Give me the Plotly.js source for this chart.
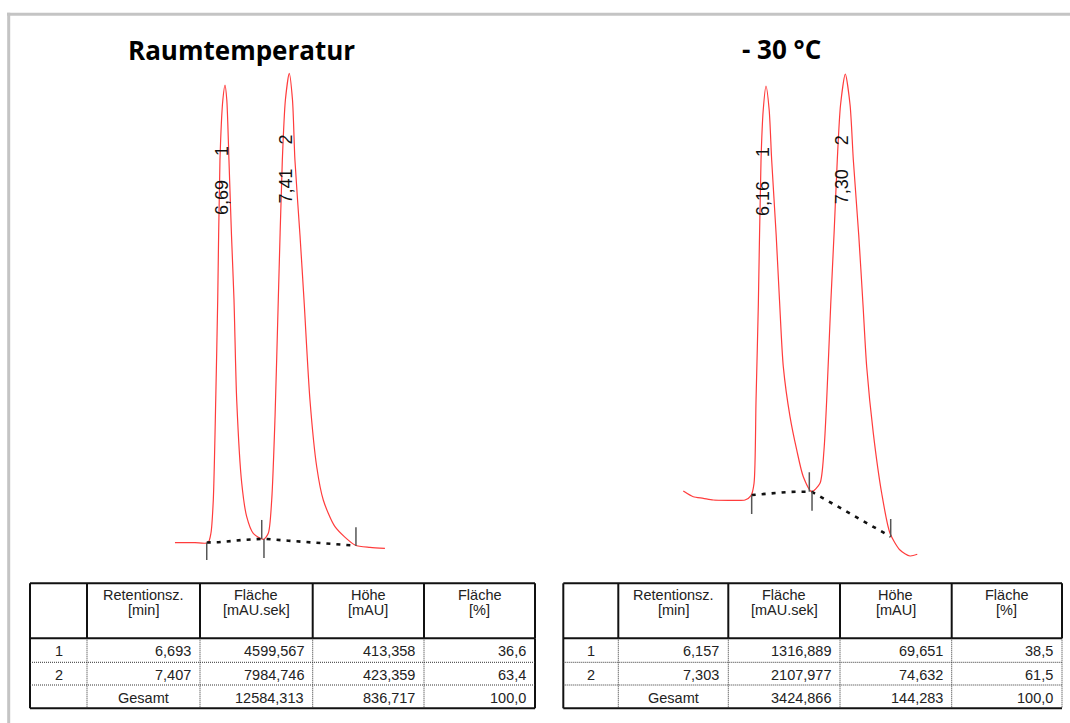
<!DOCTYPE html>
<html><head><meta charset="utf-8">
<script src="https://cdn.plot.ly/plotly-3.0.1.min.js"></script>
<style>html,body{margin:0;padding:0;background:#fff}#chart{width:1070px;height:723px}</style>
</head><body><div id="chart"></div>
<script>
// ---------- Raumtemperatur chromatogram (time [min], signal [mAU]) ----------
const timeRT = [6.137,6.359,6.504,6.537,6.563,6.590,6.612,6.637,6.669,6.693,6.713,6.737,6.765,6.793,6.823,6.879,6.934,7.007,7.119,7.174,7.212,7.249,7.285,7.330,7.364,7.407,7.443,7.470,7.526,7.571,7.637,7.712,7.785,7.915,8.137,8.304,8.470];
const signalRT = [0,0,0,8.8,38.7,129.3,219.8,346.6,401.0,414.6,401.0,346.6,278.7,219.8,129.3,53.8,23.6,8.5,3.1,8.5,38.7,114.1,219.8,346.6,401.0,425.2,401.0,346.6,278.7,219.8,129.3,68.8,38.7,14.5,-2.1,-4.3,-5.1];
const baseTimeRT = [6.490,6.619,6.879,7.126,7.396,7.656,7.915,8.148];
const baseSignalRT = [0.2,0.4,2.4,3.6,1.8,0.4,-1.2,-2.7];
const markTimeRT = [6.490,7.101,7.126,8.148];
const markTopRT = [0,20.6,3.4,13.9];
const markBottomRT = [-15.7,3.4,-13.9,-3.0];

// ---------- -30 °C chromatogram ----------
const timeCold = [4.962,5.106,5.251,5.395,5.637,5.854,5.940,5.984,6.013,6.046,6.085,6.117,6.157,6.203,6.239,6.304,6.352,6.407,6.504,6.601,6.696,6.817,6.937,6.995,7.034,7.092,7.143,7.187,7.234,7.303,7.372,7.419,7.497,7.559,7.612,7.708,7.829,7.949,8.093,8.238,8.343];
const signalCold = [1.54,0.56,0.29,0.00,-0.05,0.00,0.74,2.85,17.09,33.33,58.12,66.67,70.77,66.67,58.12,45.30,34.19,22.79,14.24,8.55,3.98,1.42,2.85,8.55,17.09,33.33,46.15,58.12,67.52,72.82,67.52,58.12,45.30,33.33,22.79,11.40,1.15,-5.69,-8.55,-9.57,-9.28];
const baseTimeCold = [5.950,6.143,6.312,6.479,6.648,6.817,7.959];
const baseSignalCold = [0.85,1.03,1.25,1.37,1.42,1.42,-6.27];
const markTimeCold = [5.950,6.783,6.822,7.959];
const markTopCold = [0.85,4.74,1.42,-3.25];
const markBottomCold = [-2.39,1.42,-1.83,-6.27];

// ---------- titles and tables ----------
const chartTitles = ["Raumtemperatur", "- 30 °C"];
const headerLine1 = ["", "Retentionsz.", "Fläche", "Höhe", "Fläche"];
const headerLine2 = ["", "[min]", "[mAU.sek]", "[mAU]", "[%]"];
const peakNumbers = ["1", "2"];
const totalLabel = "Gesamt";
const retentionRT = [6.693, 7.407];
const areaRT = [4599.567, 7984.746];
const heightRT = [413.358, 423.359];
const areaPctRT = [36.6, 63.4];
const totalsRT = [12584.313, 836.717, 100.0];
const retentionCold = [6.157, 7.303];
const areaCold = [1316.889, 2107.977];
const heightCold = [69.651, 74.632];
const areaPctCold = [38.5, 61.5];
const totalsCold = [3424.866, 144.283, 100.0];

// ---------- helpers ----------
const W = 1070, H = 723;
const PX = x => x / W;
const PY = y => 1 - y / H;
const fmt = (v, d) => v.toFixed(d).replace('.', ',');

function segments(t, top, bot) {
  const xs = [], ys = [];
  t.forEach((v, i) => { xs.push(v, v, null); ys.push(top[i], bot[i], null); });
  return {x: xs, y: ys};
}

const curveLine = {color: '#ff3c3c', width: 1.2, shape: 'spline', smoothing: 0.7};
const baseLine = {color: '#111', width: 2.6, dash: '4px,6px'};
const markLine = {color: '#555', width: 1.5};

const mkSR = segments(markTimeRT, markTopRT, markBottomRT);
const mkSC = segments(markTimeCold, markTopCold, markBottomCold);

const traces = [
  {x: timeRT, y: signalRT, xaxis: 'x', yaxis: 'y', mode: 'lines', line: curveLine, cliponaxis: false, hoverinfo: 'skip'},
  {x: baseTimeRT, y: baseSignalRT, xaxis: 'x', yaxis: 'y', mode: 'lines', line: baseLine, cliponaxis: false, hoverinfo: 'skip'},
  {x: mkSR.x, y: mkSR.y, xaxis: 'x', yaxis: 'y', mode: 'lines', line: markLine, cliponaxis: false, hoverinfo: 'skip', connectgaps: false},
  {x: timeCold, y: signalCold, xaxis: 'x2', yaxis: 'y2', mode: 'lines', line: curveLine, cliponaxis: false, hoverinfo: 'skip'},
  {x: baseTimeCold, y: baseSignalCold, xaxis: 'x2', yaxis: 'y2', mode: 'lines', line: baseLine, cliponaxis: false, hoverinfo: 'skip'},
  {x: mkSC.x, y: mkSC.y, xaxis: 'x2', yaxis: 'y2', mode: 'lines', line: markLine, cliponaxis: false, hoverinfo: 'skip', connectgaps: false}
];

const annotations = [];
const shapes = [];

// frame
shapes.push({type: 'line', xref: 'paper', yref: 'paper', x0: PX(7), x1: PX(1070), y0: PY(14.2), y1: PY(14.2), line: {color: '#c4c4c4', width: 3}});
shapes.push({type: 'line', xref: 'paper', yref: 'paper', x0: PX(8.7), x1: PX(8.7), y0: PY(12.7), y1: PY(723), line: {color: '#c4c4c4', width: 3}});

// titles
const titleFont = {family: 'Open Sans, Lato, sans-serif', size: 26, color: '#000'};
[[241, 50], [781.5, 49]].forEach((p, i) => {
  annotations.push({xref: 'paper', yref: 'paper', x: PX(p[0]), y: PY(p[1]), text: '<b>' + chartTitles[i] + '</b>', showarrow: false, xanchor: 'center', yanchor: 'middle', font: titleFont});
});

// peak labels
const labelFont = {family: 'Liberation Sans, Arial, sans-serif', size: 18, color: '#111'};
function peakLabels(rts, times, sig, xa, ya) {
  rts.forEach((rt, i) => {
    let apex = -Infinity;
    times.forEach((t, k) => { if (Math.abs(t - rt) < 0.06 && sig[k] > apex) apex = sig[k]; });
    annotations.push({xref: xa, yref: ya, x: rt, y: apex, xshift: -3, yshift: -113, text: fmt(rt, 2), textangle: -90, showarrow: false, font: labelFont, xanchor: 'center', yanchor: 'middle'});
    annotations.push({xref: xa, yref: ya, x: rt, y: apex, xshift: -3, yshift: -66, text: peakNumbers[i], textangle: -90, showarrow: false, font: labelFont, xanchor: 'center', yanchor: 'middle'});
  });
}
peakLabels(retentionRT, timeRT, signalRT, 'x', 'y');
peakLabels(retentionCold, timeCold, signalCold, 'x2', 'y2');

// tables
const tableFont = {family: 'Liberation Sans, Arial, sans-serif', size: 14.5, color: '#222'};
const rowEdges = [583.3, 638.3, 662.3, 685, 708.3];
function line(x0, y0, x1, y1, style) {
  shapes.push({type: 'line', xref: 'paper', yref: 'paper', x0: PX(x0), y0: PY(y0), x1: PX(x1), y1: PY(y1), line: style});
}
function text(x, y, s, anchor) {
  annotations.push({xref: 'paper', yref: 'paper', x: PX(x), y: PY(y), text: s, showarrow: false, xanchor: anchor, yanchor: 'middle', font: tableFont});
}
function drawTable(cols, rt, area, height, pct, totals, dottedRight) {
  const solid = {color: '#111', width: 2};
  const dot = {color: '#333', width: 1, dash: '1px,1px'};
  const r = rowEdges;
  line(cols[0], r[0], cols[5], r[0], solid);
  line(cols[0], r[4], cols[5], r[4], solid);
  line(cols[0], r[1], cols[5], r[1], solid);
  line(cols[0], r[0], cols[0], r[4], solid);
  line(cols[5], r[0], cols[5], r[1], solid);
  line(cols[5], r[1], cols[5], r[4], dottedRight ? dot : solid);
  for (let c = 1; c < 5; c++) {
    line(cols[c], r[0], cols[c], r[1], solid);
    line(cols[c], r[1], cols[c], r[4], dot);
  }
  line(cols[0], r[2], cols[5], r[2], dot);
  line(cols[0], r[3], cols[5], r[3], dot);
  for (let c = 1; c < 5; c++) {
    const cx = (cols[c] + cols[c + 1]) / 2;
    text(cx, 595, headerLine1[c], 'center');
    text(cx, 610, headerLine2[c], 'center');
  }
  const pad = 7;
  for (let i = 0; i < 2; i++) {
    const cy = (r[i + 1] + r[i + 2]) / 2 + 1;
    text((cols[0] + cols[1]) / 2, cy, peakNumbers[i], 'center');
    text(cols[2] - pad, cy, fmt(rt[i], 3), 'right');
    text(cols[3] - pad, cy, fmt(area[i], 3), 'right');
    text(cols[4] - pad, cy, fmt(height[i], 3), 'right');
    text(cols[5] - pad, cy, fmt(pct[i], 1), 'right');
  }
  const cy = (r[3] + r[4]) / 2 + 1;
  text((cols[1] + cols[2]) / 2, cy, totalLabel, 'center');
  text(cols[3] - pad, cy, fmt(totals[0], 3), 'right');
  text(cols[4] - pad, cy, fmt(totals[1], 3), 'right');
  text(cols[5] - pad, cy, fmt(totals[2], 1), 'right');
}
drawTable([30, 87, 200, 312.7, 424, 535], retentionRT, areaRT, heightRT, areaPctRT, totalsRT, false);
drawTable([563.3, 618.3, 728.3, 840, 951.7, 1062], retentionCold, areaCold, heightCold, areaPctCold, totalsCold, true);

const yDomain = [PY(570), PY(50)];
const layout = {
  width: W, height: H,
  margin: {l: 0, r: 0, t: 0, b: 0},
  paper_bgcolor: '#fff', plot_bgcolor: 'rgba(0,0,0,0)',
  showlegend: false,
  xaxis: {domain: [PX(160), PX(400)], range: [5.97078, 8.63744], visible: false, anchor: 'y'},
  yaxis: {domain: yDomain, range: [-24.728, 446.29], visible: false, anchor: 'x'},
  xaxis2: {domain: [PX(670), PX(930)], range: [4.76972, 8.52694], visible: false, anchor: 'y2'},
  yaxis2: {domain: yDomain, range: [-11.966, 76.923], visible: false, anchor: 'x2'},
  shapes: shapes,
  annotations: annotations
};
Plotly.newPlot('chart', traces, layout, {staticPlot: true, displayModeBar: false});
</script>
</body></html>
